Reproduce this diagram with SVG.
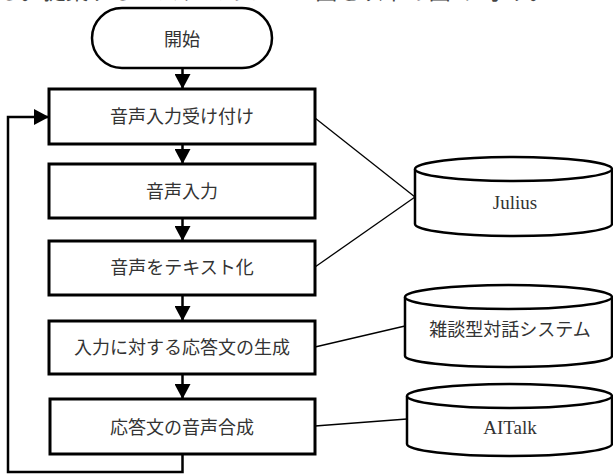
<svg xmlns="http://www.w3.org/2000/svg" width="613" height="474" viewBox="0 0 613 474">
<style>
text{font-family:"Liberation Serif","Noto Sans CJK JP",serif;font-size:18px;fill:#333;text-anchor:middle;dominant-baseline:central}
.box{fill:#fff;stroke:#000;stroke-width:3}
.cyl{fill:#fff;stroke:#000;stroke-width:2.5}
.flow{fill:none;stroke:#000;stroke-width:2.5}
.link{fill:none;stroke:#000;stroke-width:1.3}
.top{font-size:22px;text-anchor:start;dominant-baseline:auto;fill:#444;letter-spacing:0.7px}
.lat{font-size:19px}
</style>
<defs>
<marker id="ah" markerUnits="userSpaceOnUse" markerWidth="16" markerHeight="16" viewBox="0 0 16 16" refX="15" refY="8" orient="auto">
<path d="M0,0 L15,8 L0,16 Z" fill="#000"/>
</marker>
</defs>
<rect width="613" height="474" fill="#fff"/>
<text class="top" x="-2" y="-1">る。提案するシステムのフロー図を以下の図4に示す。</text>
<g id="connectors">
<line class="flow" x1="182.5" y1="68" x2="182.5" y2="89" marker-end="url(#ah)"/>
<line class="flow" x1="182.5" y1="144" x2="182.5" y2="164" marker-end="url(#ah)"/>
<line class="flow" x1="182.5" y1="218" x2="182.5" y2="241" marker-end="url(#ah)"/>
<line class="flow" x1="182.5" y1="295" x2="182.5" y2="321" marker-end="url(#ah)"/>
<line class="flow" x1="182.5" y1="374" x2="182.5" y2="399" marker-end="url(#ah)"/>
<polyline class="flow" points="182.5,454 182.5,472 8,472 8,117 49,117" marker-end="url(#ah)"/>
<line class="link" x1="315" y1="118" x2="415" y2="197"/>
<line class="link" x1="315" y1="267" x2="415" y2="197"/>
<line class="link" x1="315" y1="347" x2="405" y2="326"/>
<line class="link" x1="315" y1="426" x2="407" y2="419"/>
</g>
<g id="start">
<rect class="box" x="92" y="8" width="180" height="60" rx="30" ry="30" style="stroke-width:2.5"/>
<text x="182" y="40">開始</text>
</g>
<g id="n1">
<rect class="box" x="49" y="89" width="266" height="55"/>
<text x="182" y="117">音声入力受け付け</text>
</g>
<g id="n2">
<rect class="box" x="49" y="164" width="266" height="54"/>
<text x="182" y="192">音声入力</text>
</g>
<g id="n3">
<rect class="box" x="49" y="241" width="266" height="54"/>
<text x="182" y="268">音声をテキスト化</text>
</g>
<g id="n4">
<rect class="box" x="49" y="321" width="266" height="53"/>
<text x="182" y="348">入力に対する応答文の生成</text>
</g>
<g id="n5">
<rect class="box" x="50" y="399" width="265" height="55"/>
<text x="182" y="428">応答文の音声合成</text>
</g>
<g id="julius">
<path class="cyl" d="M415,169 L415,224 A98.5,12 0 0 0 612,224 L612,169"/>
<ellipse class="cyl" cx="513.5" cy="169" rx="98.5" ry="12"/>
<text class="lat" x="515" y="202">Julius</text>
</g>
<g id="zatsudan">
<path class="cyl" d="M405,297 L405,356 A103.5,11 0 0 0 612,356 L612,297"/>
<ellipse class="cyl" cx="508.5" cy="297" rx="103.5" ry="12"/>
<text x="510" y="330">雑談型対話システム</text>
</g>
<g id="aitalk">
<path class="cyl" d="M407,396 L407,444 A102.5,12 0 0 0 612,444 L612,396"/>
<ellipse class="cyl" cx="509.5" cy="396" rx="102.5" ry="12"/>
<text class="lat" x="510" y="427">AITalk</text>
</g>
</svg>
